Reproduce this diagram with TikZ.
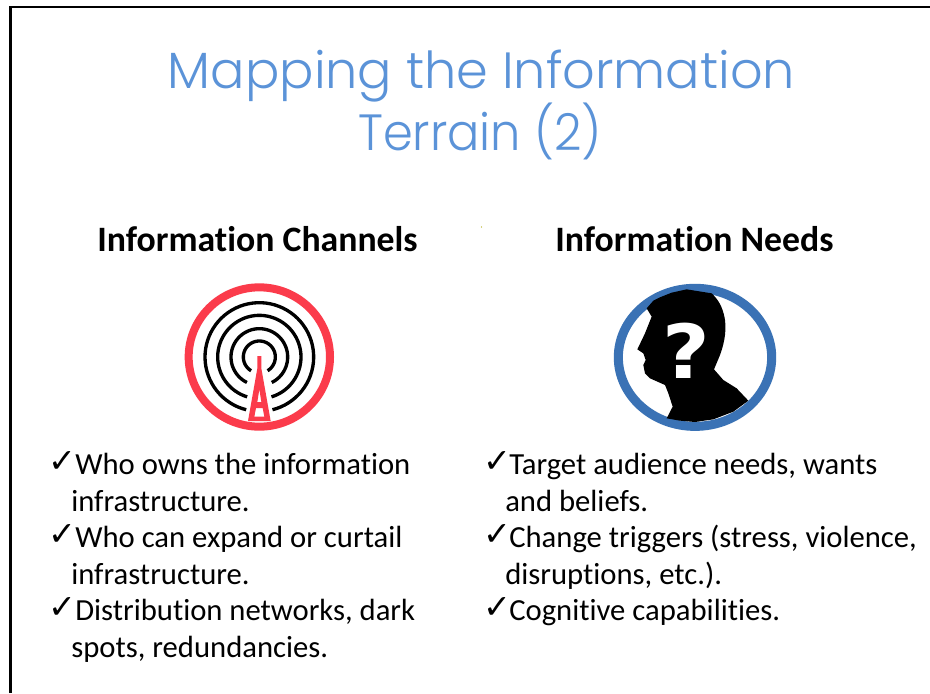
\documentclass[tikz,border=0pt]{standalone}
\usepackage{fontspec}
\setmainfont[Ligatures=NoCommon]{Carlito}
\newfontfamily\titlefont[UprightFont={* Light}]{Poppins}
\newfontfamily\symfont{DejaVu Sans}
\definecolor{titleblue}{HTML}{5B93D8}
\definecolor{ringred}{HTML}{FB3B4B}
\definecolor{ringblue}{HTML}{3A72B5}
\tikzset{
  titletext/.style={anchor=base,inner sep=0pt,text=titleblue,font=\titlefont\fontsize{38.2}{38.2}\selectfont},
  headtext/.style={anchor=base,inner sep=0pt,font=\bfseries\fontsize{26.8}{26.8}\selectfont},
  bodytext/.style={anchor=base west,inner sep=0pt,font=\fontsize{23}{23}\selectfont},
  tick/.style={anchor=base west,inner sep=0pt,font=\symfont\fontsize{25}{25}\selectfont},
  arc line/.style={draw=black,line width=2.5pt},
}
\begin{document}
\begin{tikzpicture}[x=0.75pt,y=-0.75pt]
\useasboundingbox (0,0) rectangle (930,693);
\fill[white] (0,0) rectangle (930,693);
\draw[line width=1.9pt,line cap=butt] (10.5,693) -- (10.5,7) -- (930,7);
% title
\node[titletext] (t1) at (481.5,88) {Mapping the Information};
\node[titletext,xscale=0.94] (t2) at (480,150) {Terrain (2)};
% headers
\node[headtext] (h1) at (257.5,251.5) {Information Channels};
\node[headtext] (h2) at (694.5,251.5) {Information Needs};
\fill[olive!70!yellow] (481.5,227) circle (0.6);
% left icon
\begin{scope}[shift={(170,270)},x=0.25pt,y=-0.25pt]
 \draw[ringred,line width=6pt] (268,261) ellipse [x radius=212,y radius=209];
 \foreach \r/\g in {163/14,125/17,85/26,48/31}{
  \draw[arc line] plot[domain=90+\g:450-\g,samples=72] ({268+\r*cos(\x)},{261+\r*sin(\x)});
 }
 \fill[ringred,even odd rule] (262,258) -- (274,258) -- (274,295) -- (302,453) -- (234,453) -- (262,295) -- cycle
   (268,358) -- (274,396) -- (262,396) -- cycle
   (258,414) -- (278,414) -- (283,440) -- (253,440) -- cycle;
\end{scope}
% right icon
\begin{scope}[shift={(600,270)},x=0.25pt,y=-0.25pt]
 \draw[ringblue,line width=6.8pt] (285,262) ellipse [x radius=230,y radius=207];
 \fill[black] (140,115) -- (160,92) -- (180,82) -- (215,68) -- (260,58) -- (335,70)
   .. controls (350,85) and (368,105) .. (375,150)
   .. controls (380,190) and (370,230) .. (358,260)
   -- (342,298) -- (370,330) -- (410,355) -- (445,392) -- (400,425) -- (340,448) -- (285,456) -- (240,452) -- (200,445)
   -- (218,410) -- (205,370) -- (195,345) -- (150,325) -- (135,310) -- (130,285) -- (137,270) -- (130,250) -- (112,238) -- (135,190) -- (155,140) -- cycle;
\end{scope}
\node[inner sep=0pt,anchor=base,text=white,xscale=1.1,font=\symfont\bfseries\fontsize{56}{56}\selectfont] (q) at (686,378) {?};
% left list
\node[tick] (c1) at (48,472) {✓};
\node[bodytext] (l1) at (75,474.5) {Who owns the information};
\node[bodytext] (l2) at (71,511.5) {infrastructure.};
\node[tick] (c2) at (48,545) {✓};
\node[bodytext] (l3) at (75,547.5) {Who can expand or curtail};
\node[bodytext] (l4) at (71,584.5) {infrastructure.};
\node[tick] (c3) at (48,618) {✓};
\node[bodytext] (l5) at (75,620.5) {Distribution networks, dark};
\node[bodytext] (l6) at (71,657.5) {spots, redundancies.};
% right list
\node[tick] (d1) at (483,472) {✓};
\node[bodytext] (r1) at (509,474.5) {Target audience needs, wants};
\node[bodytext] (r2) at (505,511.5) {and beliefs.};
\node[tick] (d2) at (483,545) {✓};
\node[bodytext] (r3) at (509,547.5) {Change triggers (stress, violence,};
\node[bodytext] (r4) at (505,584.5) {disruptions, etc.).};
\node[tick] (d3) at (483,618) {✓};
\node[bodytext] (r5) at (509,620.5) {Cognitive capabilities.};
\end{tikzpicture}
\end{document}
